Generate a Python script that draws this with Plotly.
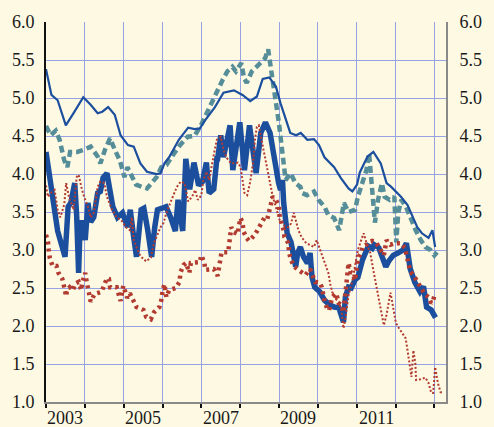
import plotly.graph_objects as go

# ---------------- data (decimal years) ----------------
thin_blue_x = [2003.00, 2003.14, 2003.30, 2003.51, 2003.71, 2003.96, 2004.15, 2004.33, 2004.45, 2004.60,
               2004.77, 2004.92, 2005.11, 2005.26, 2005.43, 2005.60, 2005.85, 2005.95, 2006.05, 2006.17,
               2006.42, 2006.66, 2006.83, 2006.96, 2007.10, 2007.35, 2007.57, 2007.84, 2008.06, 2008.26,
               2008.43, 2008.58, 2008.75, 2008.92, 2009.04, 2009.29, 2009.44, 2009.56, 2009.73, 2009.90,
               2010.03, 2010.17, 2010.42, 2010.59, 2010.79, 2010.89, 2011.01, 2011.08, 2011.28, 2011.43,
               2011.62, 2011.77, 2011.89, 2012.14, 2012.31, 2012.43, 2012.56, 2012.68, 2012.85, 2012.95,
               2013.02]
thin_blue_y = [5.38, 5.04, 4.97, 4.64, 4.80, 5.01, 4.91, 4.80, 4.82, 4.88,
               4.78, 4.51, 4.38, 4.36, 4.14, 4.03, 4.00, 4.01, 4.14, 4.22,
               4.45, 4.61, 4.59, 4.60, 4.71, 4.88, 5.07, 5.10, 5.04, 4.96,
               5.02, 5.25, 5.27, 5.15, 4.93, 4.54, 4.51, 4.54, 4.45, 4.46,
               4.38, 4.22, 4.09, 3.95, 3.81, 3.77, 3.86, 4.02, 4.23, 4.29,
               4.14, 3.88, 3.83, 3.70, 3.59, 3.46, 3.30, 3.22, 3.16, 3.26,
               3.04]

teal_x = [2003.00, 2003.12, 2003.25, 2003.35, 2003.47, 2003.55, 2003.62, 2003.80, 2003.98, 2004.15,
          2004.33, 2004.40, 2004.52, 2004.65, 2004.77, 2004.90, 2005.02, 2005.10, 2005.22, 2005.32,
          2005.47, 2005.60, 2005.72, 2005.85, 2005.97, 2006.10, 2006.27, 2006.45, 2006.65, 2006.82,
          2006.97, 2007.08, 2007.15, 2007.30, 2007.42, 2007.55, 2007.67, 2007.80, 2007.89, 2008.03,
          2008.10, 2008.17, 2008.30, 2008.47, 2008.64, 2008.72, 2008.80, 2008.90, 2009.00, 2009.06,
          2009.12, 2009.17, 2009.30, 2009.42, 2009.55, 2009.60, 2009.72, 2009.90, 2010.02, 2010.17,
          2010.27, 2010.42, 2010.55, 2010.67, 2010.79, 2010.96, 2011.03, 2011.15, 2011.25, 2011.32,
          2011.40, 2011.47, 2011.55, 2011.65, 2011.72, 2011.85, 2011.97, 2012.02, 2012.07, 2012.15,
          2012.27, 2012.40, 2012.52, 2012.65, 2012.77, 2012.90, 2013.00, 2013.07]
teal_y = [4.63, 4.51, 4.57, 4.45, 4.18, 4.09, 4.29, 4.29, 4.32, 4.36,
          4.23, 4.14, 4.32, 4.47, 4.32, 4.18, 3.96, 4.09, 3.96, 3.86,
          3.83, 3.81, 3.88, 3.96, 4.09, 4.12, 4.25, 4.38, 4.49, 4.50,
          4.62, 4.74, 4.82, 4.97, 5.11, 5.24, 5.35, 5.41, 5.35, 5.46,
          5.26, 5.20, 5.35, 5.43, 5.52, 5.64, 5.38, 4.98, 4.66, 4.40,
          4.05, 3.92, 4.01, 3.88, 3.83, 3.75, 3.72, 3.77, 3.66, 3.57,
          3.46, 3.42, 3.26, 3.62, 3.50, 3.53, 3.70, 3.88, 4.05, 4.27,
          3.83, 3.36, 3.66, 3.88, 3.70, 3.66, 3.70, 3.10, 3.49, 3.66,
          3.57, 3.39, 3.26, 3.13, 3.04, 3.00, 2.93, 2.97]

thick_blue_x = [2003.00, 2003.12, 2003.22, 2003.30, 2003.39, 2003.49, 2003.57, 2003.64, 2003.74, 2003.79,
                2003.84, 2003.88, 2003.96, 2004.01, 2004.08, 2004.15, 2004.23, 2004.33, 2004.40, 2004.47,
                2004.57, 2004.65, 2004.72, 2004.84, 2004.97, 2005.10, 2005.17, 2005.25, 2005.33, 2005.45,
                2005.52, 2005.62, 2005.72, 2005.80, 2005.87, 2005.99, 2006.09, 2006.21, 2006.33, 2006.40,
                2006.47, 2006.52, 2006.60, 2006.70, 2006.81, 2006.93, 2007.03, 2007.13, 2007.20, 2007.32,
                2007.40, 2007.42, 2007.50, 2007.57, 2007.74, 2007.81, 2007.99, 2008.11, 2008.24, 2008.41,
                2008.53, 2008.65, 2008.77, 2008.89, 2008.99, 2009.04, 2009.09, 2009.12, 2009.21, 2009.31,
                2009.36, 2009.43, 2009.48, 2009.55, 2009.63, 2009.73, 2009.80, 2009.85, 2009.92, 2010.05,
                2010.17, 2010.30, 2010.42, 2010.54, 2010.66, 2010.71, 2010.79, 2010.86, 2010.96, 2011.03,
                2011.15, 2011.30, 2011.40, 2011.45, 2011.57, 2011.65, 2011.75, 2011.82, 2011.94, 2012.06,
                2012.19, 2012.28, 2012.38, 2012.50, 2012.63, 2012.72, 2012.80, 2012.92, 2013.03]
thick_blue_y = [4.29, 3.83, 3.57, 3.25, 3.09, 2.91, 3.57, 3.62, 3.88, 3.45,
                2.70, 3.36, 3.36, 3.13, 3.62, 3.37, 3.43, 3.75, 3.77, 3.95,
                4.01, 3.79, 3.57, 3.43, 3.49, 3.30, 3.53, 3.20, 2.91, 3.53,
                3.55, 3.26, 2.91, 3.30, 3.53, 3.55, 3.57, 3.43, 3.25, 3.66,
                3.43, 3.25, 4.20, 3.80, 4.15, 3.85, 3.90, 4.15, 3.75, 3.80,
                4.20, 4.20, 4.51, 4.22, 4.64, 4.05, 4.68, 4.05, 4.64, 4.01,
                4.54, 4.68, 4.54, 4.14, 3.88, 3.79, 3.92, 3.62, 3.22, 3.10,
                2.98, 2.78, 2.96, 3.04, 2.91, 2.83, 2.96, 2.64, 2.51, 2.45,
                2.34, 2.28, 2.25, 2.24, 2.05, 2.38, 2.51, 2.50, 2.61, 2.64,
                2.87, 3.05, 3.02, 3.07, 3.03, 2.91, 2.78, 2.85, 2.93, 2.96,
                3.00, 3.09, 2.75, 2.57, 2.45, 2.52, 2.25, 2.21, 2.11]

red_dots_x = [2003.00, 2003.05, 2003.07, 2003.10, 2003.17, 2003.27, 2003.32, 2003.42, 2003.47, 2003.52,
              2003.54, 2003.61, 2003.69, 2003.76, 2003.84, 2003.91, 2003.93, 2003.98, 2004.01, 2004.03,
              2004.08, 2004.13, 2004.15, 2004.25, 2004.43, 2004.50, 2004.57, 2004.62, 2004.65, 2004.82,
              2004.87, 2004.92, 2004.99, 2005.04, 2005.09, 2005.16, 2005.26, 2005.33, 2005.51, 2005.58,
              2005.70, 2005.78, 2005.92, 2005.97, 2006.00, 2006.05, 2006.10, 2006.17, 2006.34, 2006.44,
              2006.46, 2006.54, 2006.61, 2006.69, 2006.73, 2006.83, 2006.96, 2007.00, 2007.08, 2007.10,
              2007.23, 2007.32, 2007.42, 2007.47, 2007.52, 2007.62, 2007.69, 2007.72, 2007.74, 2007.77,
              2007.82, 2007.94, 2007.96, 2008.01, 2008.06, 2008.09, 2008.16, 2008.23, 2008.38, 2008.53,
              2008.63, 2008.70, 2008.75, 2008.80, 2008.83, 2008.92, 2009.00, 2009.02, 2009.06, 2009.12,
              2009.14, 2009.24, 2009.26, 2009.31, 2009.39, 2009.49, 2009.61, 2009.68, 2009.80, 2009.88,
              2009.93, 2010.05, 2010.10, 2010.17, 2010.25, 2010.29, 2010.37, 2010.47, 2010.54, 2010.62,
              2010.66, 2010.71, 2010.74, 2010.79, 2010.84, 2010.89, 2010.96, 2011.03, 2011.11, 2011.16,
              2011.25, 2011.33, 2011.40, 2011.50, 2011.57, 2011.70, 2011.77, 2011.87, 2011.99, 2012.14,
              2012.24, 2012.31, 2012.38, 2012.51, 2012.61, 2012.68, 2012.75, 2012.85, 2012.92, 2012.97,
              2013.02]
red_dots_y = [3.20, 3.11, 3.00, 2.89, 2.79, 2.79, 2.70, 2.62, 2.51, 2.39,
              2.47, 2.51, 2.47, 2.56, 2.58, 2.47, 2.56, 2.67, 2.70, 2.63,
              2.51, 2.41, 2.32, 2.42, 2.45, 2.54, 2.63, 2.62, 2.51, 2.51,
              2.43, 2.33, 2.53, 2.46, 2.37, 2.43, 2.34, 2.25, 2.21, 2.12,
              2.09, 2.18, 2.25, 2.34, 2.46, 2.55, 2.38, 2.47, 2.50, 2.58,
              2.70, 2.80, 2.83, 2.70, 2.83, 2.83, 2.84, 2.93, 2.83, 2.74,
              2.75, 2.75, 2.66, 2.86, 2.97, 2.97, 2.97, 3.09, 3.20, 3.30,
              3.24, 3.21, 3.30, 3.42, 3.36, 3.24, 3.16, 3.12, 3.20, 3.33,
              3.43, 3.41, 3.50, 3.62, 3.70, 3.66, 3.57, 3.43, 3.36, 3.26,
              3.17, 3.09, 2.96, 2.87, 2.78, 2.74, 2.70, 2.67, 2.75, 2.63,
              2.58, 2.57, 2.51, 2.34, 2.21, 2.21, 2.38, 2.43, 2.30, 2.28,
              2.18, 2.43, 2.61, 2.83, 2.71, 2.70, 2.60, 2.89, 2.96, 3.05,
              3.07, 3.11, 3.12, 3.10, 3.04, 2.93, 3.13, 3.07, 3.09, 3.09,
              3.03, 2.87, 2.72, 2.63, 2.54, 2.47, 2.42, 2.38, 2.30, 2.34,
              2.43]

red_thin_x = [2003.00, 2003.05, 2003.12, 2003.22, 2003.30, 2003.37, 2003.47, 2003.52, 2003.59, 2003.71,
              2003.79, 2003.84, 2003.91, 2003.98, 2004.08, 2004.15, 2004.23, 2004.33, 2004.40, 2004.50,
              2004.57, 2004.70, 2004.82, 2004.94, 2005.06, 2005.16, 2005.21, 2005.26, 2005.33, 2005.43,
              2005.58, 2005.70, 2005.78, 2005.87, 2005.95, 2006.03, 2006.10, 2006.20, 2006.30, 2006.37,
              2006.47, 2006.57, 2006.66, 2006.76, 2006.84, 2006.91, 2007.00, 2007.05, 2007.13, 2007.20,
              2007.33, 2007.40, 2007.50, 2007.57, 2007.64, 2007.77, 2007.87, 2007.94, 2008.01, 2008.06,
              2008.11, 2008.18, 2008.26, 2008.33, 2008.38, 2008.43, 2008.48, 2008.55, 2008.62, 2008.70,
              2008.77, 2008.84, 2008.94, 2009.01, 2009.06, 2009.14, 2009.23, 2009.31, 2009.38, 2009.50,
              2009.58, 2009.70, 2009.78, 2009.90, 2009.97, 2010.05, 2010.12, 2010.20, 2010.27, 2010.32,
              2010.37, 2010.45, 2010.54, 2010.61, 2010.66, 2010.71, 2010.79, 2010.89, 2010.96, 2011.03,
              2011.11, 2011.18, 2011.25, 2011.35, 2011.42, 2011.52, 2011.62, 2011.70, 2011.77, 2011.87,
              2011.92, 2012.01, 2012.09, 2012.16, 2012.26, 2012.31, 2012.38, 2012.41, 2012.46, 2012.51,
              2012.53, 2012.65, 2012.77, 2012.85, 2012.92, 2012.97, 2013.02, 2013.09, 2013.16, 2013.24]
red_thin_y = [3.85, 3.70, 3.75, 3.79, 3.53, 3.43, 3.60, 3.88, 3.70, 3.53,
              3.96, 3.99, 3.83, 3.70, 3.57, 3.43, 3.49, 3.83, 3.90, 3.88,
              3.70, 3.53, 3.43, 3.39, 3.30, 3.26, 3.43, 3.13, 3.04, 2.92,
              2.85, 2.90, 3.09, 3.20, 3.30, 3.36, 3.49, 3.62, 3.75, 3.83,
              3.90, 3.88, 3.64, 3.70, 3.79, 3.66, 3.72, 3.92, 4.03, 3.92,
              4.28, 4.45, 4.49, 4.32, 4.22, 4.14, 4.14, 4.15, 4.09, 3.92,
              3.75, 3.72, 3.90, 4.14, 4.45, 4.62, 4.64, 4.45, 4.28, 4.05,
              3.88, 3.70, 3.53, 3.40, 3.39, 3.32, 3.30, 3.35, 3.49, 3.26,
              3.17, 3.09, 3.07, 3.04, 3.13, 3.02, 2.91, 2.80, 2.70, 2.55,
              2.45, 2.36, 2.32, 2.20, 1.97, 2.10, 2.40, 2.60, 2.80, 3.00,
              3.12, 3.22, 3.10, 2.96, 2.76, 2.47, 2.22, 2.01, 2.15, 2.44,
              2.30, 2.04, 1.97, 1.92, 1.84, 1.68, 1.46, 1.33, 1.68, 1.51,
              1.29, 1.30, 1.32, 1.25, 1.12, 1.12, 1.46, 1.25, 1.13, 1.12]

year_labels = ["2003", "2005", "2007", "2009", "2011"]
y_ticks = [1.0, 1.5, 2.0, 2.5, 3.0, 3.5, 4.0, 4.5, 5.0, 5.5, 6.0]

# ---------------- style ----------------
W, H = 494, 427
BG = "#fdf9e3"
GRID = "#97a2e4"
BLUE = "#1b4f9e"
TEAL = "#558d99"
RED = "#b23a30"
FONT = dict(family="Liberation Serif, Times New Roman, serif", size=18, color="#1a1a1a")

fig = go.Figure()
fig.add_trace(go.Scatter(x=teal_x, y=teal_y, mode="lines",
                         line=dict(color=TEAL, width=4.5, dash="7px,4px")))
fig.add_trace(go.Scatter(x=thin_blue_x, y=thin_blue_y, mode="lines",
                         line=dict(color=BLUE, width=2.2)))
fig.add_trace(go.Scatter(x=thick_blue_x, y=thick_blue_y, mode="lines",
                         line=dict(color=BLUE, width=5.5)))
fig.add_trace(go.Scatter(x=red_thin_x, y=red_thin_y, mode="lines",
                         line=dict(color=RED, width=2, dash="2px,2px")))
fig.add_trace(go.Scatter(x=red_dots_x, y=red_dots_y, mode="lines",
                         line=dict(color=RED, width=4.5, dash="3px,4px")))
# invisible trace to activate the right-hand axis
fig.add_trace(go.Scatter(x=[2003], y=[1], yaxis="y2", mode="markers",
                         marker=dict(opacity=0), hoverinfo="skip"))

for lab in year_labels:
    fig.add_annotation(x=int(lab) + 0.5, y=0, xref="x", yref="paper", text=lab,
                       showarrow=False, yanchor="top", yshift=-4, font=FONT)

fig.update_layout(
    width=W, height=H, autosize=False,
    margin=dict(l=41, r=34, t=22, b=25),
    paper_bgcolor=BG, plot_bgcolor=BG,
    showlegend=False,
    xaxis=dict(range=[2003, 2013.3], tickvals=list(range(2003, 2014)),
               ticktext=[""] * 11, showgrid=True, gridcolor=GRID, gridwidth=1,
               showline=True, linecolor="#8a8a8a", linewidth=2,
               ticks="outside", ticklen=4, tickcolor="#111111", tickwidth=1.5,
               zeroline=False),
    yaxis=dict(range=[1, 6], tickvals=y_ticks, tickformat=".1f",
               showgrid=True, gridcolor=GRID, gridwidth=1,
               showline=True, linecolor="#111111", linewidth=2,
               ticks="", ticklabelstandoff=6, tickfont=FONT, zeroline=False),
    yaxis2=dict(range=[1, 6], tickvals=y_ticks, tickformat=".1f",
                overlaying="y", side="right", showgrid=False,
                showline=True, linecolor="#8a8a8a", linewidth=2,
                ticks="", ticklabelstandoff=8, tickfont=FONT, zeroline=False),
)

post_js = (
    "document.documentElement.style.margin='0';"
    "document.body.style.margin='0';document.body.style.padding='0';"
    "document.body.style.overflow='hidden';"
    "document.body.style.background='" + BG + "';"
    "Plotly.relayout('{plot_id}', {width: %d, height: %d});" % (W, H)
)

fig.write_html("out.html", config={"responsive": False, "displayModeBar": False},
               post_script=post_js)
